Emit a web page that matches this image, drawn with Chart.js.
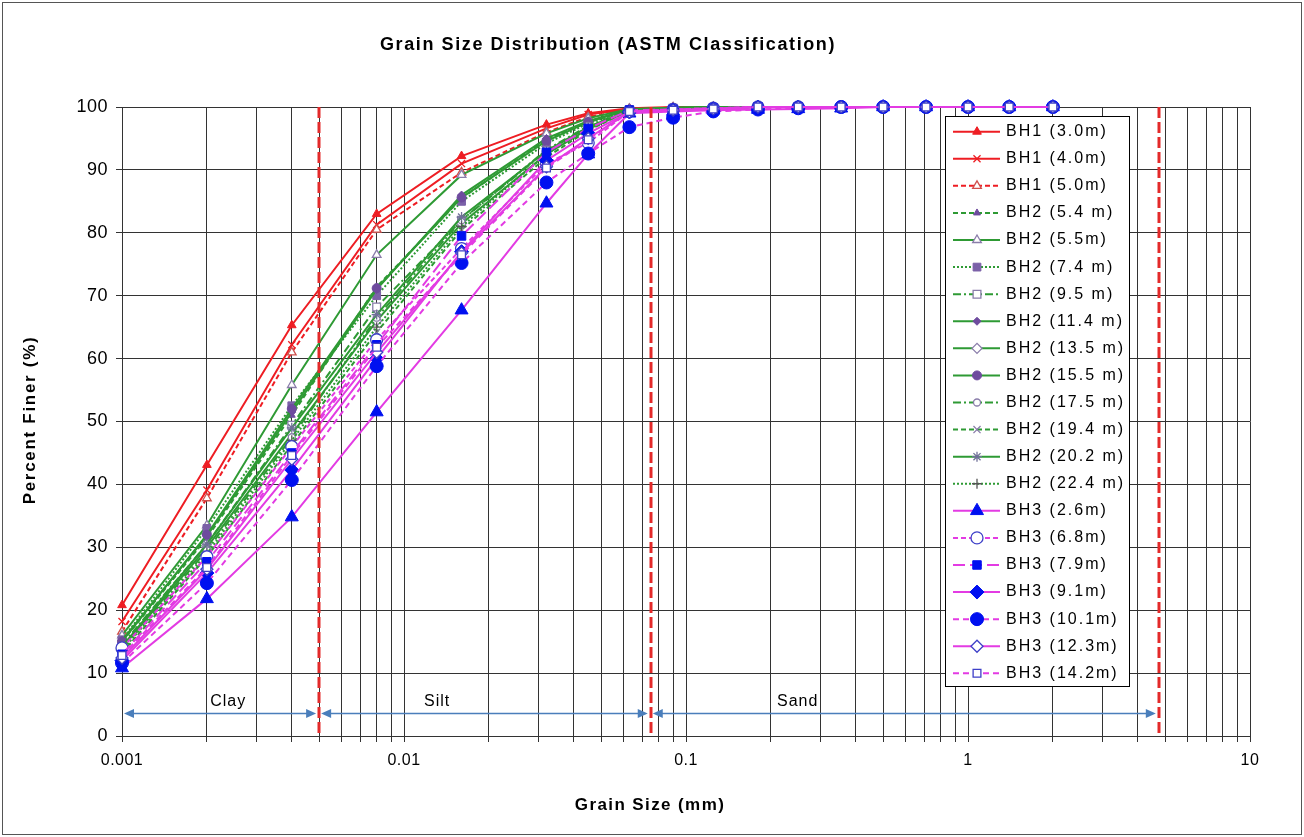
<!DOCTYPE html>
<html lang="en">
<head>
<meta charset="UTF-8">
<title>Grain Size Distribution (ASTM Classification)</title>
<script src="https://cdn.jsdelivr.net/npm/chart.js"></script>
<style>
  html, body { margin: 0; padding: 0; background: #fff; }
  #wrap { width: 1304px; height: 837px; }
</style>
</head>
<body>
<div id="wrap"><canvas id="grainChart" width="1304" height="837"></canvas></div>

<script>
// grain sizes (mm) - hydrometer readings then sieves
const grainSize = [0.001, 0.002, 0.004, 0.008, 0.016, 0.032, 0.045, 0.063, 0.09, 0.125, 0.18, 0.25, 0.355, 0.5, 0.71, 1, 1.4, 2];

// percent finer for each sample
const bh1_3_0  = [20.8, 43.1, 65.3, 83.0, 92.2, 97.2, 99.0, 99.8, 100, 100, 100, 100, 100, 100, 100, 100, 100, 100];
const bh1_4_0  = [18.2, 39.1, 62.2, 81.3, 91.0, 96.6, 98.8, 99.7, 99.9, 100, 100, 100, 100, 100, 100, 100, 100, 100];
const bh1_5_0  = [16.6, 37.8, 61.0, 80.5, 89.6, 96.0, 98.4, 99.6, 99.9, 100, 100, 100, 100, 100, 100, 100, 100, 100];
const bh2_5_4  = [15.0, 31.5, 51.0, 71.4, 85.5, 94.8, 97.6, 99.5, 99.8, 99.9, 100, 100, 100, 100, 100, 100, 100, 100];
const bh2_5_5  = [16.0, 33.5, 55.8, 76.5, 89.2, 95.8, 98.2, 99.7, 99.9, 100, 100, 100, 100, 100, 100, 100, 100, 100];
const bh2_7_4  = [15.3, 33.0, 52.5, 70.0, 85.0, 94.2, 97.4, 99.6, 99.8, 99.9, 100, 100, 100, 100, 100, 100, 100, 100];
const bh2_9_5  = [14.5, 30.5, 49.4, 68.2, 82.0, 93.0, 96.8, 99.5, 99.8, 99.9, 100, 100, 100, 100, 100, 100, 100, 100];
const bh2_11_4 = [15.2, 31.8, 51.5, 71.0, 86.0, 95.0, 97.8, 99.6, 99.9, 100, 100, 100, 100, 100, 100, 100, 100, 100];
const bh2_13_5 = [14.0, 30.0, 48.0, 66.0, 81.5, 92.5, 96.5, 99.4, 99.8, 99.9, 100, 100, 100, 100, 100, 100, 100, 100];
const bh2_15_5 = [15.0, 32.0, 52.0, 71.2, 85.6, 94.6, 97.6, 99.6, 99.9, 100, 100, 100, 100, 100, 100, 100, 100, 100];
const bh2_17_5 = [13.8, 29.5, 47.5, 66.5, 82.0, 93.2, 97.0, 99.5, 99.8, 99.9, 100, 100, 100, 100, 100, 100, 100, 100];
const bh2_19_4 = [13.2, 28.5, 46.3, 64.2, 80.5, 92.0, 96.3, 99.4, 99.8, 99.9, 100, 100, 100, 100, 100, 100, 100, 100];
const bh2_20_2 = [14.2, 30.5, 49.0, 67.0, 82.5, 93.0, 96.8, 99.5, 99.8, 99.9, 100, 100, 100, 100, 100, 100, 100, 100];
const bh2_22_4 = [13.6, 29.0, 47.0, 65.0, 81.0, 92.5, 96.6, 99.5, 99.8, 99.9, 100, 100, 100, 100, 100, 100, 100, 100];
const bh3_2_6  = [10.8, 21.8, 34.8, 51.5, 67.7, 84.7, 92.5, 99.0, 99.3, 99.5, 99.6, 99.7, 99.8, 100, 100, 100, 100, 100];
const bh3_6_8  = [14.0, 28.5, 46.0, 63.0, 77.5, 91.0, 94.3, 99.3, 99.6, 99.8, 100, 100, 100, 100, 100, 100, 100, 100];
const bh3_7_9  = [13.0, 27.7, 45.0, 62.2, 79.5, 92.8, 96.6, 99.5, 99.6, 99.8, 100, 100, 100, 100, 100, 100, 100, 100];
const bh3_9_1  = [12.0, 25.9, 42.3, 60.0, 77.0, 91.5, 95.8, 99.2, 99.5, 99.7, 100, 100, 100, 100, 100, 100, 100, 100];
const bh3_10_1 = [11.6, 24.3, 40.7, 58.8, 75.2, 88.0, 92.6, 96.8, 98.3, 99.3, 99.6, 99.8, 100, 100, 100, 100, 100, 100];
const bh3_12_3 = [12.4, 26.5, 44.0, 61.0, 76.8, 90.5, 95.0, 99.2, 99.5, 99.7, 100, 100, 100, 100, 100, 100, 100, 100];
const bh3_14_2 = [12.8, 26.8, 44.6, 61.8, 76.5, 90.3, 94.8, 99.3, 99.5, 99.7, 100, 100, 100, 100, 100, 100, 100, 100];

const seriesLabels = [
    'BH1 (3.0m)', 'BH1 (4.0m)', 'BH1 (5.0m)',
    'BH2 (5.4 m)', 'BH2 (5.5m)', 'BH2 (7.4 m)', 'BH2 (9.5 m)', 'BH2 (11.4 m)', 'BH2 (13.5 m)',
    'BH2 (15.5 m)', 'BH2 (17.5 m)', 'BH2 (19.4 m)', 'BH2 (20.2 m)', 'BH2 (22.4 m)',
    'BH3 (2.6m)', 'BH3 (6.8m)', 'BH3 (7.9m)', 'BH3 (9.1m)', 'BH3 (10.1m)', 'BH3 (12.3m)', 'BH3 (14.2m)'
];
const seriesValues = [
    bh1_3_0, bh1_4_0, bh1_5_0,
    bh2_5_4, bh2_5_5, bh2_7_4, bh2_9_5, bh2_11_4, bh2_13_5, bh2_15_5, bh2_17_5, bh2_19_4, bh2_20_2, bh2_22_4,
    bh3_2_6, bh3_6_8, bh3_7_9, bh3_9_1, bh3_10_1, bh3_12_3, bh3_14_2
];

// ASTM boundaries and zone labels
const boundaries = [0.005, 0.075, 4.75];
const zoneNames = ['Clay', 'Silt', 'Sand'];
const zoneFrom = [0.001, 0.005, 0.075];
const zoneTo = [0.005, 0.075, 4.75];
const zoneLabelAt = [0.00238, 0.0131, 0.249];
const zoneArrowY = 3.6;
const zoneLabelY = 5.4;

const xLabelTicks = [0.001, 0.01, 0.1, 1, 10];

const chartTitle = 'Grain Size Distribution (ASTM Classification)';
const xTitle = 'Grain Size (mm)';
const yTitle = 'Percent Finer (%)';

// styles
const RED = '#EE1D23';
const GREEN = '#2E9A34';
const MAG = '#E33BE3';
const PURPLE = '#6E4B9E';
const GREYP = '#8A7DAA';
const BLUE = '#0010F0';
const BLUE2 = '#3E40C8';
const FONT = "'Liberation Sans', Arial, sans-serif";

const seriesStyles = [
    { line: RED,   dash: [],           marker: 'triangle', color: RED,    fill: true,  r: 5 },
    { line: RED,   dash: [],           marker: 'crossRot', color: RED,    fill: false, r: 5 },
    { line: RED,   dash: [5, 3],       marker: 'triangle', color: '#D0504D', fill: false, r: 5 },
    { line: GREEN, dash: [5, 3],       marker: 'triangle', color: PURPLE, fill: true,  r: 4 },
    { line: GREEN, dash: [],           marker: 'triangle', color: GREYP,  fill: false, r: 5 },
    { line: GREEN, dash: [2, 2],       marker: 'rect',     color: '#7B61A8', fill: true, r: 5.5 },
    { line: GREEN, dash: [8, 3, 2, 3], marker: 'rect',     color: GREYP,  fill: false, r: 5.5 },
    { line: GREEN, dash: [],           marker: 'rectRot',  color: PURPLE, fill: true,  r: 4 },
    { line: GREEN, dash: [],           marker: 'rectRot',  color: GREYP,  fill: false, r: 5 },
    { line: GREEN, dash: [],           marker: 'circle',   color: PURPLE, fill: true,  r: 4.5 },
    { line: GREEN, dash: [8, 3, 2, 3], marker: 'circle',   color: GREYP,  fill: false, r: 3.5 },
    { line: GREEN, dash: [5, 3],       marker: 'crossRot', color: GREYP,  fill: false, r: 5 },
    { line: GREEN, dash: [],           marker: 'star',     color: '#6F6F98', fill: false, r: 5 },
    { line: GREEN, dash: [2, 2],       marker: 'cross',    color: '#555555', fill: false, r: 5 },
    { line: MAG,   dash: [],           marker: 'triangle', color: BLUE,   fill: true,  r: 7.5 },
    { line: MAG,   dash: [5, 3],       marker: 'circle',   color: BLUE2,  fill: false, r: 6 },
    { line: MAG,   dash: [12, 5],      marker: 'rect',     color: BLUE,   fill: true,  r: 6 },
    { line: MAG,   dash: [],           marker: 'rectRot',  color: BLUE,   fill: true,  r: 7 },
    { line: MAG,   dash: [6, 4],       marker: 'circle',   color: BLUE,   fill: true,  r: 6.5 },
    { line: MAG,   dash: [],           marker: 'rectRot',  color: BLUE2,  fill: false, r: 6 },
    { line: MAG,   dash: [6, 4],       marker: 'rect',     color: BLUE2,  fill: false, r: 5.5 }
];

// white page with thin frame, slightly spaced tick text
const pageFrame = {
    id: 'pageFrame',
    beforeDraw(chart) {
        const ctx = chart.ctx;
        ctx.save();
        ctx.fillStyle = '#fff';
        ctx.fillRect(0, 0, chart.width, chart.height);
        ctx.strokeStyle = '#555';
        ctx.lineWidth = 1;
        ctx.strokeRect(2.5, 2.5, chart.width - 5, chart.height - 5);
        ctx.restore();
        ctx.letterSpacing = '0.5px';
    }
};

// titles drawn by hand so the letter spacing can follow the original
const titles = {
    id: 'titles',
    afterDraw(chart) {
        const ctx = chart.ctx;
        ctx.save();
        ctx.fillStyle = '#000';
        ctx.textAlign = 'center';
        ctx.textBaseline = 'middle';
        ctx.font = 'bold 18px ' + FONT;
        ctx.letterSpacing = '1.6px';
        ctx.fillText(chartTitle, 608, 45);
        ctx.font = 'bold 17px ' + FONT;
        ctx.letterSpacing = '1.4px';
        ctx.fillText(xTitle, 650, 805);
        ctx.translate(30, 420);
        ctx.rotate(-Math.PI / 2);
        ctx.letterSpacing = '1.7px';
        ctx.fillText(yTitle, 0, 0);
        ctx.restore();
    }
};

// red boundary lines, arrows and zone names
const zones = {
    id: 'zones',
    afterDatasetsDraw(chart) {
        const ctx = chart.ctx;
        const xs = chart.scales.x, ys = chart.scales.y;
        ctx.save();
        ctx.strokeStyle = '#E32A2A';
        ctx.lineWidth = 3;
        ctx.setLineDash([11, 4]);
        boundaries.forEach(b => {
            const px = Math.round(xs.getPixelForValue(b));
            ctx.beginPath();
            ctx.moveTo(px, ys.getPixelForValue(100));
            ctx.lineTo(px, ys.getPixelForValue(0));
            ctx.stroke();
        });
        ctx.setLineDash([]);

        const ay = Math.round(ys.getPixelForValue(zoneArrowY)) + 0.5;
        ctx.strokeStyle = '#4A7EBB';
        ctx.fillStyle = '#4A7EBB';
        ctx.lineWidth = 1.5;
        zoneNames.forEach((name, i) => {
            const x1 = xs.getPixelForValue(zoneFrom[i]) + 2;
            const x2 = xs.getPixelForValue(zoneTo[i]) - 3;
            ctx.beginPath();
            ctx.moveTo(x1 + 8, ay);
            ctx.lineTo(x2 - 8, ay);
            ctx.stroke();
            ctx.beginPath();
            ctx.moveTo(x1, ay); ctx.lineTo(x1 + 10, ay - 4.5); ctx.lineTo(x1 + 10, ay + 4.5); ctx.closePath();
            ctx.fill();
            ctx.beginPath();
            ctx.moveTo(x2, ay); ctx.lineTo(x2 - 10, ay - 4.5); ctx.lineTo(x2 - 10, ay + 4.5); ctx.closePath();
            ctx.fill();

            ctx.fillStyle = '#000';
            ctx.font = '16px ' + FONT;
            ctx.letterSpacing = '1px';
            ctx.textAlign = 'center';
            ctx.textBaseline = 'middle';
            ctx.fillText(name, xs.getPixelForValue(zoneLabelAt[i]), ys.getPixelForValue(zoneLabelY));
            ctx.fillStyle = '#4A7EBB';
        });
        ctx.restore();
    }
};

// legend box drawn inside the plot, like the spreadsheet one
const legendBox = {
    id: 'legendBox',
    afterDraw(chart) {
        const ctx = chart.ctx;
        const left = 945.5, top = 116.5, w = 184, h = 570;
        ctx.save();
        ctx.fillStyle = '#fff';
        ctx.fillRect(left, top, w, h);
        ctx.strokeStyle = '#000';
        ctx.lineWidth = 1;
        ctx.strokeRect(left, top, w, h);
        chart.data.datasets.forEach((ds, i) => {
            const y = 131.7 + i * 27.08;
            ctx.strokeStyle = ds.borderColor;
            ctx.lineWidth = ds.borderWidth;
            ctx.setLineDash(ds.borderDash);
            ctx.beginPath();
            ctx.moveTo(953, y);
            ctx.lineTo(1000, y);
            ctx.stroke();
            ctx.setLineDash([]);
            ctx.fillStyle = ds.pointBackgroundColor;
            ctx.strokeStyle = ds.pointBorderColor;
            ctx.lineWidth = ds.pointBorderWidth;
            Chart.helpers.drawPoint(ctx, {
                pointStyle: ds.pointStyle, radius: ds.pointRadius, rotation: 0, borderWidth: ds.pointBorderWidth
            }, 977, y);
            ctx.fillStyle = '#000';
            ctx.font = '16px ' + FONT;
            ctx.letterSpacing = '2px';
            ctx.textAlign = 'left';
            ctx.textBaseline = 'middle';
            ctx.fillText(ds.label, 1006, y);
        });
        ctx.restore();
    }
};

const n = seriesLabels.length;
const datasets = seriesLabels.map((label, i) => {
    const st = seriesStyles[i];
    return {
        label: label,
        data: grainSize.map((g, k) => ({ x: g, y: seriesValues[i][k] })),
        borderColor: st.line,
        borderWidth: 2,
        borderDash: st.dash,
        pointStyle: st.marker,
        pointRadius: st.r,
        pointBackgroundColor: st.fill ? st.color : '#fff',
        pointBorderColor: st.color,
        pointBorderWidth: st.fill ? 1 : 1.3,
        tension: 0,
        fill: false,
        clip: false,
        order: n - i
    };
});

const ctx = document.getElementById('grainChart').getContext('2d');
new Chart(ctx, {
    type: 'line',
    data: { datasets: datasets },
    options: {
        responsive: false,
        animation: false,
        layout: { padding: { left: 10, right: 54, top: 107, bottom: 0 } },
        scales: {
            x: {
                type: 'logarithmic',
                min: 0.001,
                max: 10,
                afterBuildTicks: (scale) => {
                    const t = [];
                    for (let e = -3; e <= 0; e++) {
                        for (let m = 1; m <= 9; m++) t.push({ value: m * Math.pow(10, e) });
                    }
                    t.push({ value: 10 });
                    scale.ticks = t;
                },
                afterFit: (scale) => { scale.height = 101; },
                grid: { color: '#333333', lineWidth: 1, tickLength: 6 },
                border: { color: '#333333' },
                ticks: {
                    autoSkip: false,
                    maxRotation: 0,
                    padding: 9,
                    color: '#000',
                    font: { family: FONT, size: 16 },
                    callback: (v) => {
                        const hit = xLabelTicks.find(t => Math.abs(t - v) < t * 1e-6);
                        return hit === undefined ? '' : String(hit);
                    }
                }
            },
            y: {
                min: 0,
                max: 100,
                afterFit: (scale) => { scale.width = 112; },
                grid: { color: '#333333', lineWidth: 1, tickLength: 6 },
                border: { color: '#333333' },
                ticks: {
                    stepSize: 10,
                    padding: 8,
                    color: '#000',
                    font: { family: FONT, size: 18 }
                }
            }
        },
        plugins: {
            legend: { display: false },
            tooltip: { enabled: false },
            title: { display: false }
        }
    },
    plugins: [pageFrame, zones, titles, legendBox]
});
</script>
</body>
</html>
